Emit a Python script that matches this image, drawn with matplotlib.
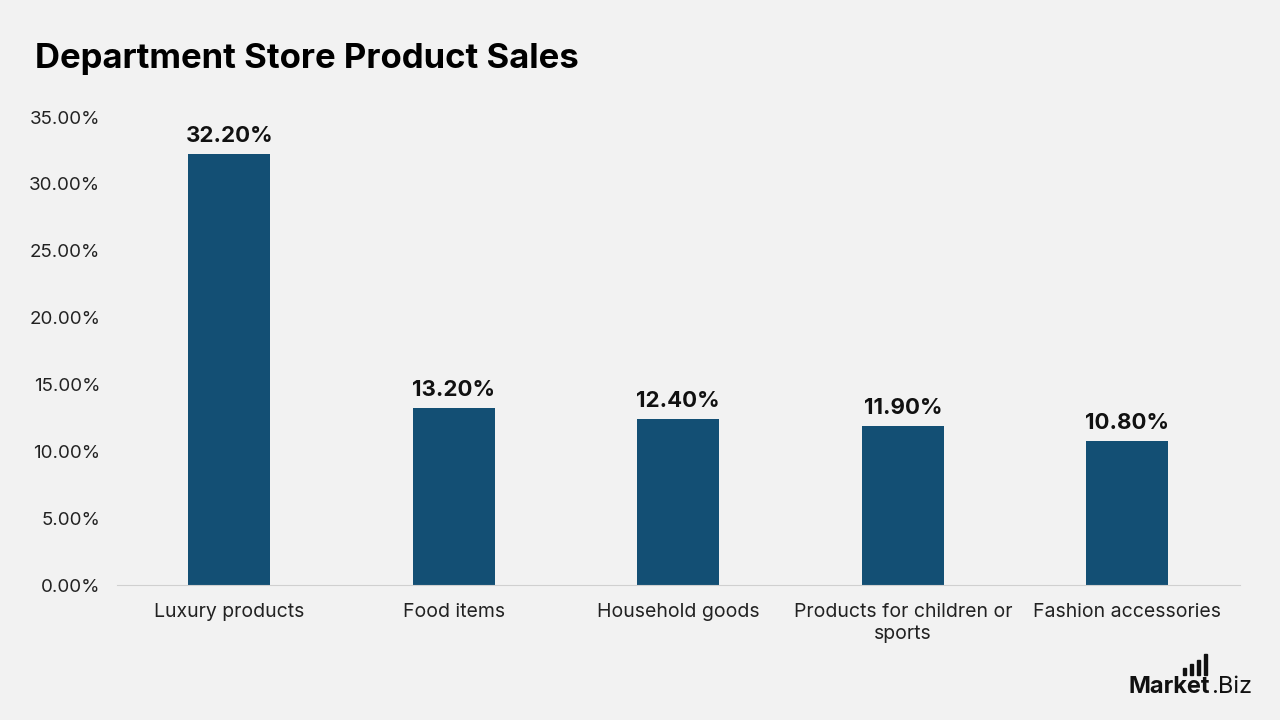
import matplotlib.pyplot as plt
from matplotlib.ticker import FuncFormatter

plt.rcParams['font.family'] = ['Inter', 'DejaVu Sans']

categories = ['Luxury products', 'Food items', 'Household goods',
              'Products for children or\nsports', 'Fashion accessories']
values = [32.2, 13.2, 12.4, 11.9, 10.8]

bg = '#f2f2f2'
bar_color = '#134f74'

fig = plt.figure(figsize=(12.8, 7.2), dpi=100, facecolor=bg)
ax = fig.add_axes([0.0914, 0.1875, 0.877, 0.65], facecolor=bg)

x = range(len(categories))
bars = ax.bar(x, values, width=0.365, color=bar_color, zorder=2)

for b, v in zip(bars, values):
    ax.text(b.get_x() + b.get_width() / 2, v + 0.6, f'{v:.2f}%',
            ha='center', va='bottom', fontsize=16, fontweight='bold', color='#111111')

ax.set_xlim(-0.5, 4.5)
ax.set_ylim(0, 35)
ax.set_yticks([0, 5, 10, 15, 20, 25, 30, 35])
ax.yaxis.set_major_formatter(FuncFormatter(lambda v, p: f'{v:.2f}%'))
ax.set_xticks(list(x))
ax.set_xticklabels(categories, fontsize=14, color='#222222', linespacing=1.25)
ax.tick_params(axis='y', labelsize=13.5, colors='#222222', length=0, pad=12)
ax.tick_params(axis='x', length=0, pad=13)

for s in ['top', 'right', 'left']:
    ax.spines[s].set_visible(False)
ax.spines['bottom'].set_color('#d0d0d0')

fig.text(0.027, 0.918, 'Department Store Product Sales', fontsize=25,
         fontweight='bold', color='#000000', va='center')

# logo
fig.text(0.882, 0.037, 'Market', fontsize=17, fontweight='bold', color='#111111', va='baseline')
fig.text(0.946, 0.037, '.Biz', fontsize=17, color='#111111', va='baseline')
for i, h in enumerate([0.010, 0.016, 0.022, 0.030]):
    fig.add_artist(plt.Rectangle((0.924 + i * 0.0055, 0.062), 0.0028, h,
                                 transform=fig.transFigure, color='#111111'))

fig.savefig('out.png', dpi=100, facecolor=bg)
